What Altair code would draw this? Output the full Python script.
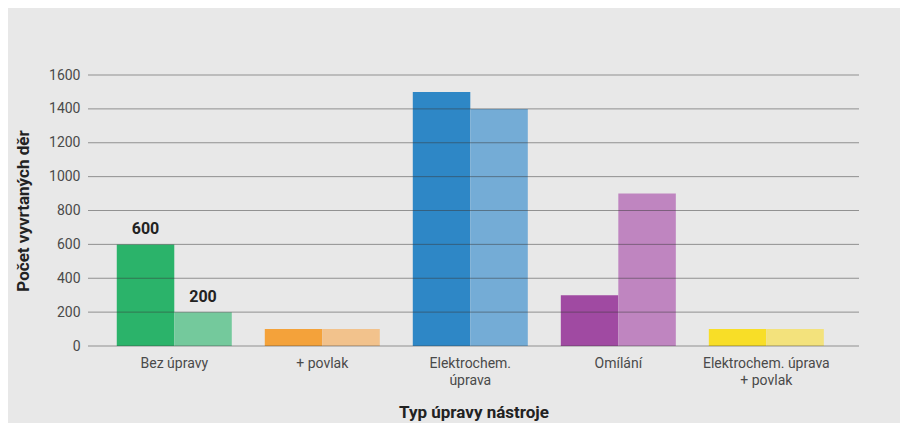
import altair as alt
import pandas as pd

categories = ["Bez úpravy", "+ povlak", "Elektrochem. úprava", "Omílání", "Elektrochem. úprava + povlak"]
series_a = [600, 100, 1500, 300, 100]
series_b = [200, 100, 1400, 900, 100]
dark_colors = ["#2bb36a", "#f4a23a", "#2e87c6", "#a04aa2", "#f8de27"]
light_colors = ["#74c99c", "#f2c28c", "#74acd6", "#bf85c0", "#f3e27c"]
labelled_category = "Bez úpravy"
y_ticks = [0, 200, 400, 600, 800, 1000, 1200, 1400, 1600]

rows = []
for i, c in enumerate(categories):
    for s, vals in (("a", series_a), ("b", series_b)):
        rows.append({"cat": c, "series": s, "value": vals[i], "key": f"{c}|{s}",
                     "label": str(vals[i]) if c == labelled_category else ""})
df = pd.DataFrame(rows)
grid_df = pd.DataFrame({"value": y_ticks})

color_domain = [f"{c}|a" for c in categories] + [f"{c}|b" for c in categories]
color_range = dark_colors + light_colors

label_expr = ("datum.value == 'Elektrochem. úprava' ? ['Elektrochem.', 'úprava'] : "
              "datum.value == 'Elektrochem. úprava + povlak' ? ['Elektrochem. úprava', '+ povlak'] : datum.value")

x = alt.X("cat:N", sort=categories, title="Typ úpravy nástroje",
          scale=alt.Scale(paddingInner=0.223, paddingOuter=0.216, align=0.45),
          axis=alt.Axis(labelAngle=0, labelExpr=label_expr, domain=False, ticks=False,
                        grid=False, labelPadding=10, labelFontSize=14, labelColor="#4a4a4a",
                        labelFont="Roboto", labelLineHeight=17,
                        titleFont="Roboto", titleFontSize=17, titleFontWeight="bold",
                        titleColor="#222222", titlePadding=17))
y = alt.Y("value:Q", title="Počet vyvrtaných děr",
          scale=alt.Scale(domain=[0, 1600], nice=False),
          axis=alt.Axis(values=y_ticks, format="d", labelOverlap=False, grid=False,
                        domain=False, ticks=False, labelPadding=8, labelFontSize=14,
                        labelColor="#4a4a4a", labelFont="Roboto",
                        titleFont="Roboto", titleFontSize=17, titleFontWeight="bold",
                        titleColor="#222222", titlePadding=16))
xoff = alt.XOffset("series:N", scale=alt.Scale(paddingInner=0, paddingOuter=0))

base = alt.Chart(df)
bars = base.mark_bar().encode(
    x=x,
    xOffset=xoff,
    y=y,
    color=alt.Color("key:N", scale=alt.Scale(domain=color_domain, range=color_range), legend=None),
)
grid = alt.Chart(grid_df).mark_rule(color="#3a3a3a", opacity=0.5, strokeWidth=1).encode(
    y=y,
)
labels = base.mark_text(fontSize=16, fontWeight="bold", font="Roboto", color="#222222",
                        baseline="bottom", dy=-7).encode(
    x=x,
    xOffset=xoff,
    y=y,
    text="label:N",
)

chart = alt.layer(bars, grid, labels).properties(
    width=771, height=271,
    background="#e8e8e8",
    padding={"left": 80, "top": 67, "right": 41, "bottom": 77},
    autosize=alt.AutoSizeParams(type="none"),
).configure_view(stroke=None)

chart.save("out.html", embed_options={"renderer": "svg", "actions": False})
